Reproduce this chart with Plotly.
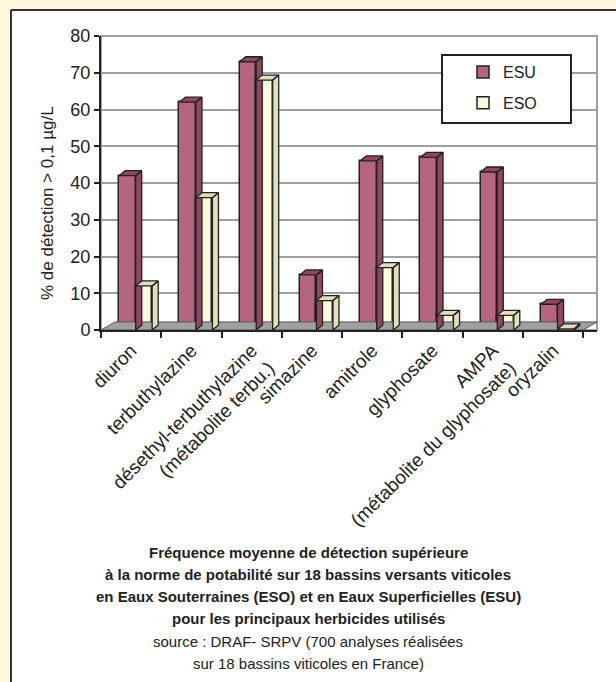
import plotly.graph_objects as go

categories = ["diuron", "terbuthylazine", "désethyl-terbuthylazine<br>(métabolite terbu.)",
              "simazine", "amitrole", "glyphosate", "AMPA<br>(métabolite du glyphosate)", "oryzalin"]
esu = [42, 62, 73, 15, 46, 47, 43, 7]
eso = [12, 36, 68, 8, 17, 4, 4, 0.3]
y_ticks = [0, 10, 20, 30, 40, 50, 60, 70, 80]
title_lines = [
    "<b>Fréquence moyenne de détection supérieure</b>",
    "<b>à la norme de potabilité sur 18 bassins versants viticoles</b>",
    "<b>en Eaux Souterraines (ESO) et en Eaux Superficielles (ESU)</b>",
    "<b>pour les principaux herbicides utilisés</b>",
    "source : DRAF- SRPV (700 analyses réalisées",
    "sur 18 bassins viticoles en France)",
]

FONT = "Liberation Sans, Arial, sans-serif"
ESU_C, ESU_SIDE = "#B5657F", "#93465F"
ESO_C, ESO_SIDE = "#FCF9DC", "#E2DEBB"
EDGE = "#222222"

n = len(categories)
xs = list(range(n))
bw = 0.274        # bar width (category units)
shift = 0.075     # pair shift
dx, dy = 0.10, 1.36  # pseudo-3D depth

x_esu = [i + shift - bw / 2 for i in xs]
x_eso = [i + shift + bw / 2 for i in xs]


def faces(xc, vals):
    px, py = [], []
    for x, v in zip(xc, vals):
        xl, xr = x - bw / 2, x + bw / 2
        px += [xr, xr + dx, xr + dx, xr, xr, None]
        py += [0, dy, v + dy, v, 0, None]
        px += [xl, xl + dx, xr + dx, xr, xl, None]
        py += [v, v + dy, v + dy, v, v, None]
    return px, py


fig = go.Figure()

x0, x1 = -0.5, n - 0.5
fig.add_trace(go.Scatter(
    x=[x0, x1, x1 + 0.23, x0 + 0.23, x0], y=[0, 0, 2.2, 2.2, 0],
    fill="toself", fillcolor="#A0A0A0", mode="lines",
    line=dict(color="#555555", width=1), hoverinfo="skip", showlegend=False))

fig.add_trace(go.Bar(x=x_esu, y=esu, width=bw, name="ESU", legendgroup="a",
                     marker=dict(color=ESU_C, line=dict(color=EDGE, width=1.5))))
fx, fy = faces(x_esu, esu)
fig.add_trace(go.Scatter(x=fx, y=fy, fill="toself", fillcolor=ESU_SIDE, mode="lines",
                         line=dict(color=EDGE, width=1.3), hoverinfo="skip",
                         showlegend=False))
fig.add_trace(go.Bar(x=x_eso, y=eso, width=bw, name="ESO", legendgroup="b",
                     marker=dict(color=ESO_C, line=dict(color=EDGE, width=1.5))))
fx, fy = faces(x_eso, eso)
fig.add_trace(go.Scatter(x=fx, y=fy, fill="toself", fillcolor=ESO_SIDE, mode="lines",
                         line=dict(color=EDGE, width=1.3), hoverinfo="skip",
                         showlegend=False))

W, H = 616, 682
L, R, T, B = 101, 19, 36, 352
pw, ph = W - L - R, H - T - B


def px_x(X):
    return (X - L) / pw


def px_y(Y):
    return (330 - Y) / ph


fig.update_layout(
    width=W, height=H,
    margin=dict(l=L, r=R, t=T, b=B),
    paper_bgcolor="white", plot_bgcolor="white",
    barmode="overlay",
    font=dict(family=FONT, color="#222222", size=15),
    legend=dict(x=px_x(463), y=px_y(55), xanchor="left", yanchor="top",
                bgcolor="rgba(0,0,0,0)", borderwidth=0,
                font=dict(size=16, family=FONT), tracegroupgap=7,
                itemwidth=30),
    xaxis=dict(range=[-0.5, n - 0.5 + 0.23], tickmode="array", tickvals=xs,
               ticktext=categories, tickangle=-45, ticks="",
               showline=True, linecolor="#222222", linewidth=2,
               showgrid=False, zeroline=False,
               tickfont=dict(size=19, family=FONT),
               minor=dict(tickmode="array", tickvals=[i - 0.5 for i in range(n + 1)],
                          ticks="outside", ticklen=6, tickwidth=2, tickcolor="#222222")),
    yaxis=dict(range=[0, 80], tickmode="array", tickvals=y_ticks,
               ticks="outside", ticklen=5, tickwidth=2, tickcolor="#222222",
               showline=True, linecolor="#222222", linewidth=2,
               showgrid=True, gridcolor="#A0A0A0", gridwidth=2, zeroline=False,
               tickfont=dict(size=18, family=FONT)),
    bargap=0,
)

# back wall outline (top/right)
fig.add_shape(type="rect", xref="paper", yref="paper", x0=0, x1=1, y0=0, y1=1,
              line=dict(color="#A0A0A0", width=2), layer="below")

# legend box
fig.add_shape(type="rect", xref="paper", yref="paper", x0=px_x(442), x1=px_x(571),
              y0=px_y(123), y1=px_y(55), line=dict(color="#222222", width=2),
              fillcolor="white", layer="above")

# y-axis title
fig.add_annotation(text="% de détection > 0,1 µg/L", xref="paper", yref="paper",
                   x=px_x(47), y=px_y(203), textangle=-90, showarrow=False,
                   font=dict(size=17, family=FONT), xanchor="center", yanchor="middle")

# caption
ys = [552, 574, 596, 618, 641, 663]
for txt, yp in zip(title_lines, ys):
    fig.add_annotation(text=txt, xref="paper", yref="paper",
                       x=px_x(308), y=px_y(yp), showarrow=False,
                       xanchor="center", yanchor="middle",
                       font=dict(size=15, family=FONT, color="#222222"))

# frame decoration
fig.add_shape(type="rect", xref="paper", yref="paper", x0=px_x(0), x1=px_x(W),
              y0=px_y(9), y1=px_y(0), line=dict(width=0), fillcolor="#FFF6DC", layer="below")
fig.add_shape(type="rect", xref="paper", yref="paper", x0=px_x(0), x1=px_x(9),
              y0=px_y(H), y1=px_y(0), line=dict(width=0), fillcolor="#FFF6DC", layer="below")
fig.add_shape(type="line", xref="paper", yref="paper", x0=px_x(11), x1=px_x(W),
              y0=px_y(10), y1=px_y(10), line=dict(color="#333333", width=2))
fig.add_shape(type="line", xref="paper", yref="paper", x0=px_x(11), x1=px_x(11),
              y0=px_y(10), y1=px_y(H), line=dict(color="#333333", width=2))

fig.write_html("out.html", config={"displayModeBar": False},
               post_script="document.body.style.margin='0';")
